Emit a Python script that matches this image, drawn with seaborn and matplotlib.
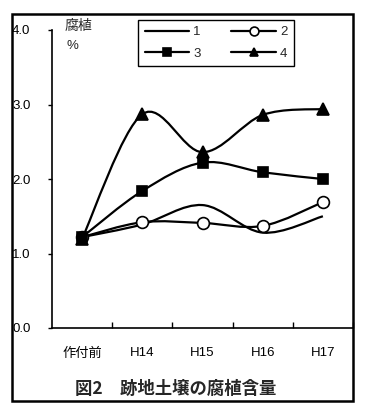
import numpy as np
import pandas as pd
import seaborn as sns
import matplotlib
matplotlib.use("Agg")
import matplotlib.pyplot as plt
from matplotlib.path import Path
from matplotlib.patches import PathPatch, Rectangle
from matplotlib.lines import Line2D

# ---- data ----
categories = ["作付前", "H14", "H15", "H16", "H17"]
series_names = ["1", "2", "3", "4"]
s1 = [1.22, 1.39, 1.65, 1.28, 1.50]
s2 = [1.22, 1.42, 1.41, 1.37, 1.69]
s3 = [1.22, 1.84, 2.22, 2.09, 2.00]
s4 = [1.20, 2.87, 2.36, 2.86, 2.94]
y_ticks = [0.0, 1.0, 2.0, 3.0, 4.0]
y_ticklabels = ["0.0", "1.0", "2.0", "3.0", "4.0"]
title = "図2　跡地土壌の腐植含量"
ylabel_top = "腐植"
ylabel_unit = "%"

sns.set_theme(style="white")
plt.rcParams["font.family"] = ["Liberation Sans", "Noto Sans CJK JP", "DejaVu Sans"]

W, H = 369, 417
fig = plt.figure(figsize=(W / 100, H / 100), dpi=100)
L, R, T, B = 52, 353, 30, 328
ax = fig.add_axes([L / W, 1 - B / H, (R - L) / W, (B - T) / H])

x = np.arange(len(categories))
df = pd.DataFrame({"x": np.tile(x, 4),
                   "y": s1 + s2 + s3 + s4,
                   "s": np.repeat(series_names, len(categories))})

styles = {
    "1": dict(marker=None),
    "2": dict(marker="o", mfc="white", ms=8.5),
    "3": dict(marker="s", mfc="black", ms=7.5),
    "4": dict(marker="^", mfc="black", ms=8.5),
}

def smooth_path(xs, ys):
    P = np.column_stack([xs, ys]).astype(float)
    n = len(P)
    verts = [P[0]]
    codes = [Path.MOVETO]
    for i in range(n - 1):
        p0 = P[i - 1] if i > 0 else P[i]
        p1 = P[i]
        p2 = P[i + 1]
        p3 = P[i + 2] if i + 2 < n else P[i + 1]
        c1 = p1 + (p2 - p0) / 6.0
        c2 = p2 - (p3 - p1) / 6.0
        verts += [c1, c2, p2]
        codes += [Path.CURVE4] * 3
    return Path(verts, codes)

handles = {}
for name in series_names:
    sub = df[df.s == name]
    ax.add_patch(PathPatch(smooth_path(sub.x.values, sub.y.values), fill=False,
                           edgecolor="black", lw=1.6, zorder=2,
                           transform=ax.transData))
    st = styles[name]
    if st["marker"] is not None:
        sns.lineplot(data=sub, x="x", y="y", ax=ax, linestyle="", marker=st["marker"],
                     markersize=st["ms"], markerfacecolor=st["mfc"],
                     markeredgecolor="black", markeredgewidth=1.2, color="black",
                     zorder=3, legend=False, errorbar=None)
        handles[name] = Line2D([], [], color="black", lw=1.6, marker=st["marker"],
                               markersize=st["ms"] * 0.75, markerfacecolor=st["mfc"],
                               markeredgecolor="black", markeredgewidth=1.2)
    else:
        handles[name] = Line2D([], [], color="black", lw=1.6)

ax.set_xlim(-0.5, len(categories) - 0.5)
ax.set_ylim(0, 4)
ax.set_xlabel("")
ax.set_ylabel("")
ax.set_xticks(x)
ax.set_xticklabels(categories)
ax.set_xticks(np.arange(len(categories)) + 0.5, minor=True)
ax.tick_params(axis="x", which="major", length=0, pad=14, labelsize=9.5, colors="black")
ax.tick_params(axis="x", which="minor", length=4, width=1, direction="in", bottom=True, color="black")
ax.set_yticks(y_ticks)
ax.set_yticklabels(y_ticklabels)
ax.tick_params(axis="y", which="major", length=3, width=1, direction="out", left=True,
               pad=12.5, labelsize=9.5, colors="black")
for sp in ["top", "right"]:
    ax.spines[sp].set_visible(False)
for sp in ["left", "bottom"]:
    ax.spines[sp].set_color("black")
    ax.spines[sp].set_linewidth(1.2)
ax.grid(False)
ax.set_facecolor("white")

ax.text(78 / W, 1 - 26 / H, ylabel_top, transform=fig.transFigure, ha="center", va="center",
        fontsize=10, family=["Noto Sans CJK JP"])
ax.text(72.5 / W, 1 - 46 / H, ylabel_unit, transform=fig.transFigure, ha="center", va="center",
        fontsize=9.5)

# column-major fill: col1 = 1,3 ; col2 = 2,4
order = ["1", "3", "2", "4"]
leg = fig.legend([handles[k] for k in order], order, ncol=2, loc="center",
                 bbox_to_anchor=((136 + 296) / 2 / W, 1 - 43 / H),
                 frameon=True, fancybox=False, shadow=False, framealpha=1,
                 edgecolor="black", fontsize=9.5, handlelength=3.4, handletextpad=0.3,
                 columnspacing=2.3, labelspacing=0.7, borderpad=0.5)
leg.get_frame().set_linewidth(1.0)

fig.text(176 / W, 1 - 389 / H, title, ha="center", va="center", fontsize=12.5,
         fontweight="bold", family=["Noto Sans CJK JP", "DejaVu Sans"])

fig.patches.append(Rectangle((12.5 / W, 1 - 400.5 / H), (352.5 - 12.5) / W, (400.5 - 13.5) / H,
                             transform=fig.transFigure, fill=False, edgecolor="black",
                             lw=1.8, zorder=10))

fig.savefig("out.png", dpi=100, facecolor="white")
